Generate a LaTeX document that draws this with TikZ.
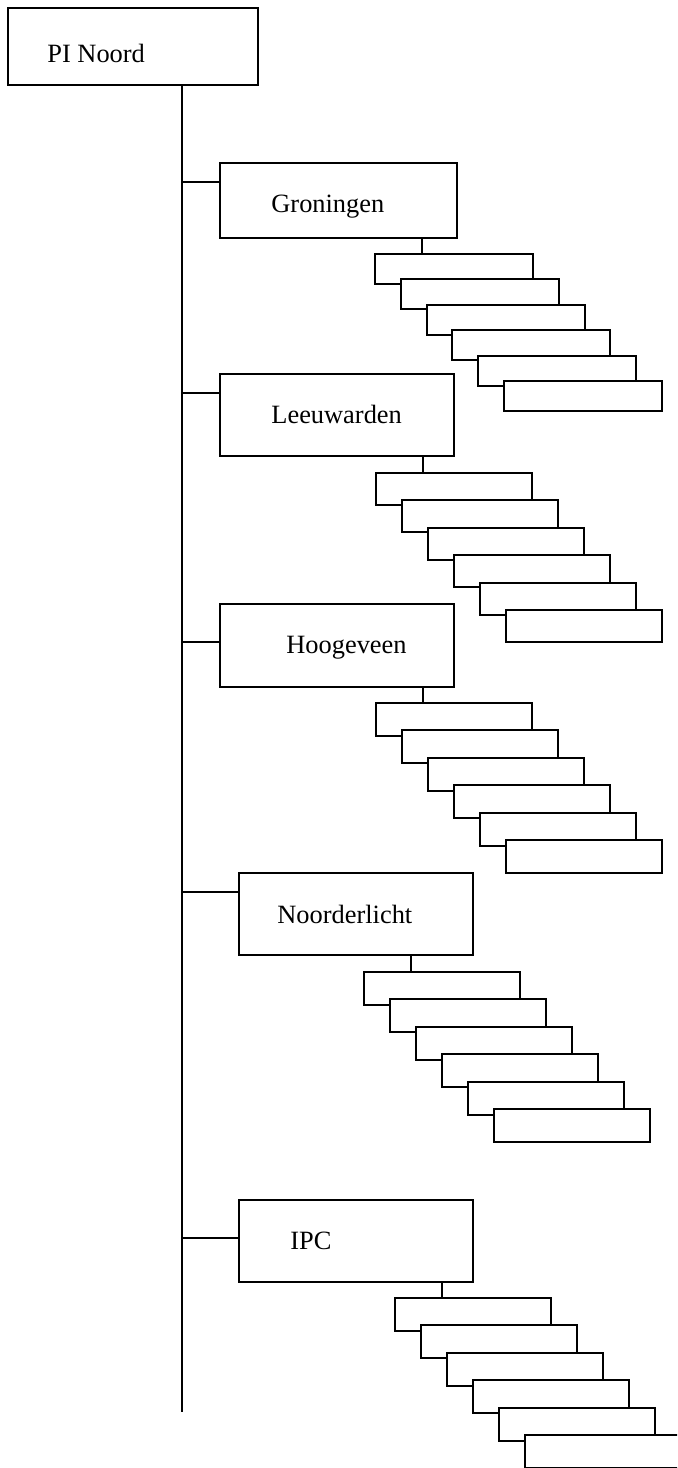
\documentclass[tikz,border=0pt]{standalone}
\usepackage{fontspec}
\setmainfont{Liberation Serif}
\tikzset{
  box/.style={draw, line width=1pt, fill=white, inner sep=0pt, outer sep=0pt, anchor=north west},
  lbl/.style={anchor=base west, inner sep=0pt, font=\fontsize{13.2}{16}\selectfont},
  link/.style={line width=1pt}
}
% name, x, y, dx, dy, w, h
\newcommand\mycascade[7]{%
  \foreach \i in {0,...,5}{%
    \node[box, minimum width=#6*0.5pt, minimum height=#7*0.5pt] (#1\i) at ({#2+#4*\i},{#3+#5*\i}) {};
  }%
}
\begin{document}
\begin{tikzpicture}[x=0.5pt, y=-0.5pt]
  \clip (0,0) rectangle (677,1468);
  % main boxes
  \node[box, minimum width=125pt, minimum height=38.5pt] (pi) at (8,8) {};
  \node[lbl] (pit) at (47,62) {PI Noord};
  \node[box, minimum width=118.5pt, minimum height=37.5pt] (gro) at (220,163) {};
  \node[lbl] (grot) at (271,212) {Groningen};
  \node[box, minimum width=117pt, minimum height=41pt] (leeu) at (220,374) {};
  \node[lbl] (leeut) at (271,423) {Leeuwarden};
  \node[box, minimum width=117pt, minimum height=41.5pt] (hoog) at (220,604) {};
  \node[lbl] (hoogt) at (286,653) {Hoogeveen};
  \node[box, minimum width=117pt, minimum height=41pt] (noord) at (239,873) {};
  \node[lbl] (noordt) at (277,923) {Noorderlicht};
  \node[box, minimum width=117pt, minimum height=41pt] (ipc) at (239,1200) {};
  \node[lbl] (ipct) at (290,1249) {IPC};
  % trunk
  \coordinate (ttop) at (182,85);
  \coordinate (tbot) at (182,1412);
  \draw[link] (ttop) -- (tbot);
  % branches
  \draw[link] (ttop |- 0,182) -- (gro.west |- 0,182);
  \draw[link] (ttop |- 0,393) -- (leeu.west |- 0,393);
  \draw[link] (ttop |- 0,642) -- (hoog.west |- 0,642);
  \draw[link] (ttop |- 0,892) -- (noord.west |- 0,892);
  \draw[link] (ttop |- 0,1238) -- (ipc.west |- 0,1238);
  % cascades
  \mycascade{g}{375}{254}{25.8}{25.4}{158}{30}
  \mycascade{l}{376}{473}{26}{27.4}{156}{32}
  \mycascade{h}{376}{703}{26}{27.4}{156}{33}
  \mycascade{n}{364}{972}{26}{27.4}{156}{33}
  \mycascade{p}{395}{1298}{26}{27.4}{156}{33}
  % stems
  \draw[link] (gro.south -| 422,0) -- (g0.north -| 422,0);
  \draw[link] (leeu.south -| 423,0) -- (l0.north -| 423,0);
  \draw[link] (hoog.south -| 423,0) -- (h0.north -| 423,0);
  \draw[link] (noord.south -| 411,0) -- (n0.north -| 411,0);
  \draw[link] (ipc.south -| 442,0) -- (p0.north -| 442,0);
\end{tikzpicture}
\end{document}
